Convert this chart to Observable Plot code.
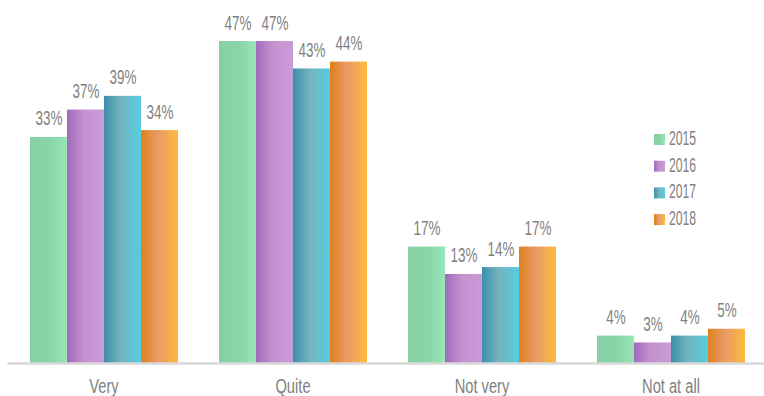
<!DOCTYPE html>
<html>
<head>
<meta charset="utf-8">
<script src="https://cdn.jsdelivr.net/npm/d3@7"></script>
<script src="https://cdn.jsdelivr.net/npm/@observablehq/plot@0.6"></script>
<style>
  html, body { margin: 0; padding: 0; background: #fff; }
  #chart { width: 764px; height: 396px; overflow: hidden; }
</style>
</head>
<body>
<div id="chart"></div>
<script>
const categories = ["Very", "Quite", "Not very", "Not at all"];
const years = ["2015", "2016", "2017", "2018"];
const values2015 = [33, 47, 17, 4];
const values2016 = [37, 47, 13, 3];
const values2017 = [39, 43, 14, 4];
const values2018 = [34, 44, 17, 5];

const gradientStops = {
  "2015": [["0%", "#86d0a3"], ["60%", "#8ad6a8"], ["100%", "#98e6b8"]],
  "2016": [["0%", "#a06cb9"], ["45%", "#c690d0"], ["100%", "#c99cd7"]],
  "2017": [["0%", "#3a8eab"], ["45%", "#74b4bd"], ["100%", "#55cde2"]],
  "2018": [["0%", "#df801c"], ["45%", "#e99a68"], ["100%", "#fdbb3c"]]
};

const series = [values2015, values2016, values2017, values2018];
const data = [];
categories.forEach((c, i) => {
  years.forEach((y, j) => data.push({category: c, year: y, value: series[j][i]}));
});

const font = "'Liberation Sans', Arial, sans-serif";
const textColor = "#7f7f7f";

const plot = Plot.plot({
  width: 764,
  height: 396,
  marginLeft: 11,
  marginRight: 0,
  marginTop: 20.5,
  marginBottom: 33,
  style: {fontFamily: font, fontSize: "21px", color: textColor, background: "#fff", overflow: "visible"},
  fx: {domain: categories, paddingInner: 0.2, paddingOuter: 0.09, label: null, axis: "bottom", tickSize: 0, tickPadding: 15},
  x: {domain: years, padding: 0, axis: null},
  y: {domain: [0, 50], axis: null},
  color: {type: "identity"},
  marks: [
    Plot.barY(data, {fx: "category", x: "year", y: "value", fill: d => `url(#grad${d.year})`}),
    Plot.text(data, {fx: "category", x: "year", y: "value", text: d => `${d.value}%`, lineAnchor: "bottom", dy: -12, fill: textColor, fontSize: 21, fontFamily: font, className: "vlabel"}),
    Plot.ruleY([0], {stroke: "#d9d9d9", strokeWidth: 2.5, insetLeft: -20.5, insetRight: -20.5})
  ]
});

const svg = d3.select(plot);
const defs = svg.insert("defs", ":first-child");
years.forEach(y => {
  const g = defs.append("linearGradient").attr("id", `grad${y}`)
    .attr("x1", "0").attr("y1", "0").attr("x2", "1").attr("y2", "0");
  gradientStops[y].forEach(([o, c]) => g.append("stop").attr("offset", o).attr("stop-color", c));
});

// Condense all chart texts horizontally (narrow display face look)
function condense(node, s) {
  const x = +node.getAttribute("x") || 0;
  const t = node.getAttribute("transform") || "";
  node.setAttribute("transform", `${t} translate(${x},0) scale(${s},1) translate(${-x},0)`);
}
svg.selectAll("text").each(function() {
  const inValue = this.closest(".vlabel") !== null;
  condense(this, inValue ? 0.64 : 0.7);
});

// Legend
const legend = svg.append("g").attr("font-family", font).attr("font-size", 21).attr("text-anchor", "start");
years.forEach((y, i) => {
  const top = 134 + i * 26.7;
  legend.append("rect").attr("x", 654).attr("y", top).attr("width", 11).attr("height", 11)
    .attr("fill", `url(#grad${y})`);
  legend.append("text").attr("transform", `translate(669,${top + 11}) scale(0.58,1)`)
    .attr("fill", textColor).text(y);
});

document.getElementById("chart").appendChild(plot);
</script>
</body>
</html>
